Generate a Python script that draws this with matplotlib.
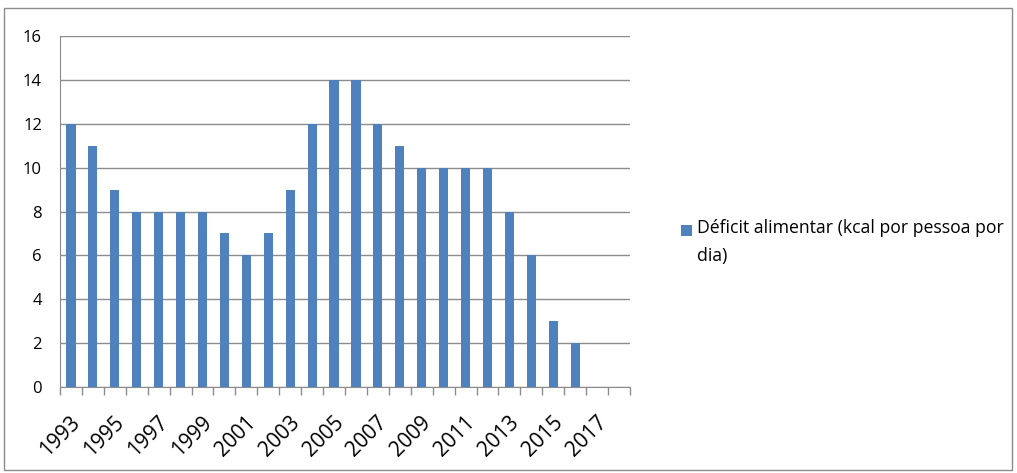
import matplotlib
matplotlib.use("Agg")
import matplotlib.pyplot as plt
from matplotlib.patches import Rectangle
import numpy as np

years = list(range(1993, 2019))
values = [12, 11, 9, 8, 8, 8, 8, 7, 6, 7, 9, 12, 14, 14, 12, 11, 10, 10, 10, 10, 8, 6, 3, 2, None, None]
series_name = "Déficit alimentar (kcal por pessoa por\ndia)"
yticks = [0, 2, 4, 6, 8, 10, 12, 14, 16]

plt.rcParams['font.family'] = ['Open Sans', 'DejaVu Sans']
color = '#4F81BD'
grid_c = '#8C8C8C'

fig = plt.figure(figsize=(10.17, 4.73), dpi=100)
ax = fig.add_axes([60/1017, 1-387/473, 570/1017, (387-36)/473])

x = np.arange(len(years))
bars_x = [xi for xi, v in zip(x, values) if v is not None]
bars_v = [v for v in values if v is not None]
ax.bar(bars_x, bars_v, width=0.42, color=color, zorder=3, label=series_name)

ax.set_xlim(-0.5, len(years) - 0.5)
ax.set_ylim(0, 16)
ax.set_yticks(yticks)
ax.set_yticklabels([str(t) for t in yticks], fontsize=12)
ax.yaxis.grid(True, color=grid_c, linewidth=1)
ax.set_axisbelow(True)

ax.set_xticks(np.arange(-0.5, len(years), 1))
ax.set_xticklabels([])
ax.tick_params(axis='x', direction='out', length=6, color=grid_c, width=1)
ax.tick_params(axis='y', length=0, pad=13)

for xi, yr in zip(x, years):
    if (yr - 1993) % 2 == 0:
        ax.text(xi - 0.05, -1.15, str(yr), rotation=45, ha='right', va='top',
                rotation_mode='anchor', fontsize=15)

for s in ['top', 'right']:
    ax.spines[s].set_visible(False)
ax.spines['left'].set_color(grid_c)
ax.spines['bottom'].set_color(grid_c)

# legend (drawn manually so the swatch aligns with the first text line)
fig.patches.append(Rectangle((681/1017, 1-236/473), 11/1017, 11/473, transform=fig.transFigure,
                             facecolor=color, edgecolor='none'))
fig.text(697/1017, 1-219/473, series_name, ha='left', va='top', fontsize=12.7,
         linespacing=1.7, transform=fig.transFigure)

fig.patches.append(Rectangle((4/1017, 3/473), 1008/1017, 1-11/473, transform=fig.transFigure,
                             fill=False, edgecolor='#8C8C8C', linewidth=1))

fig.savefig('out.png', dpi=100)
